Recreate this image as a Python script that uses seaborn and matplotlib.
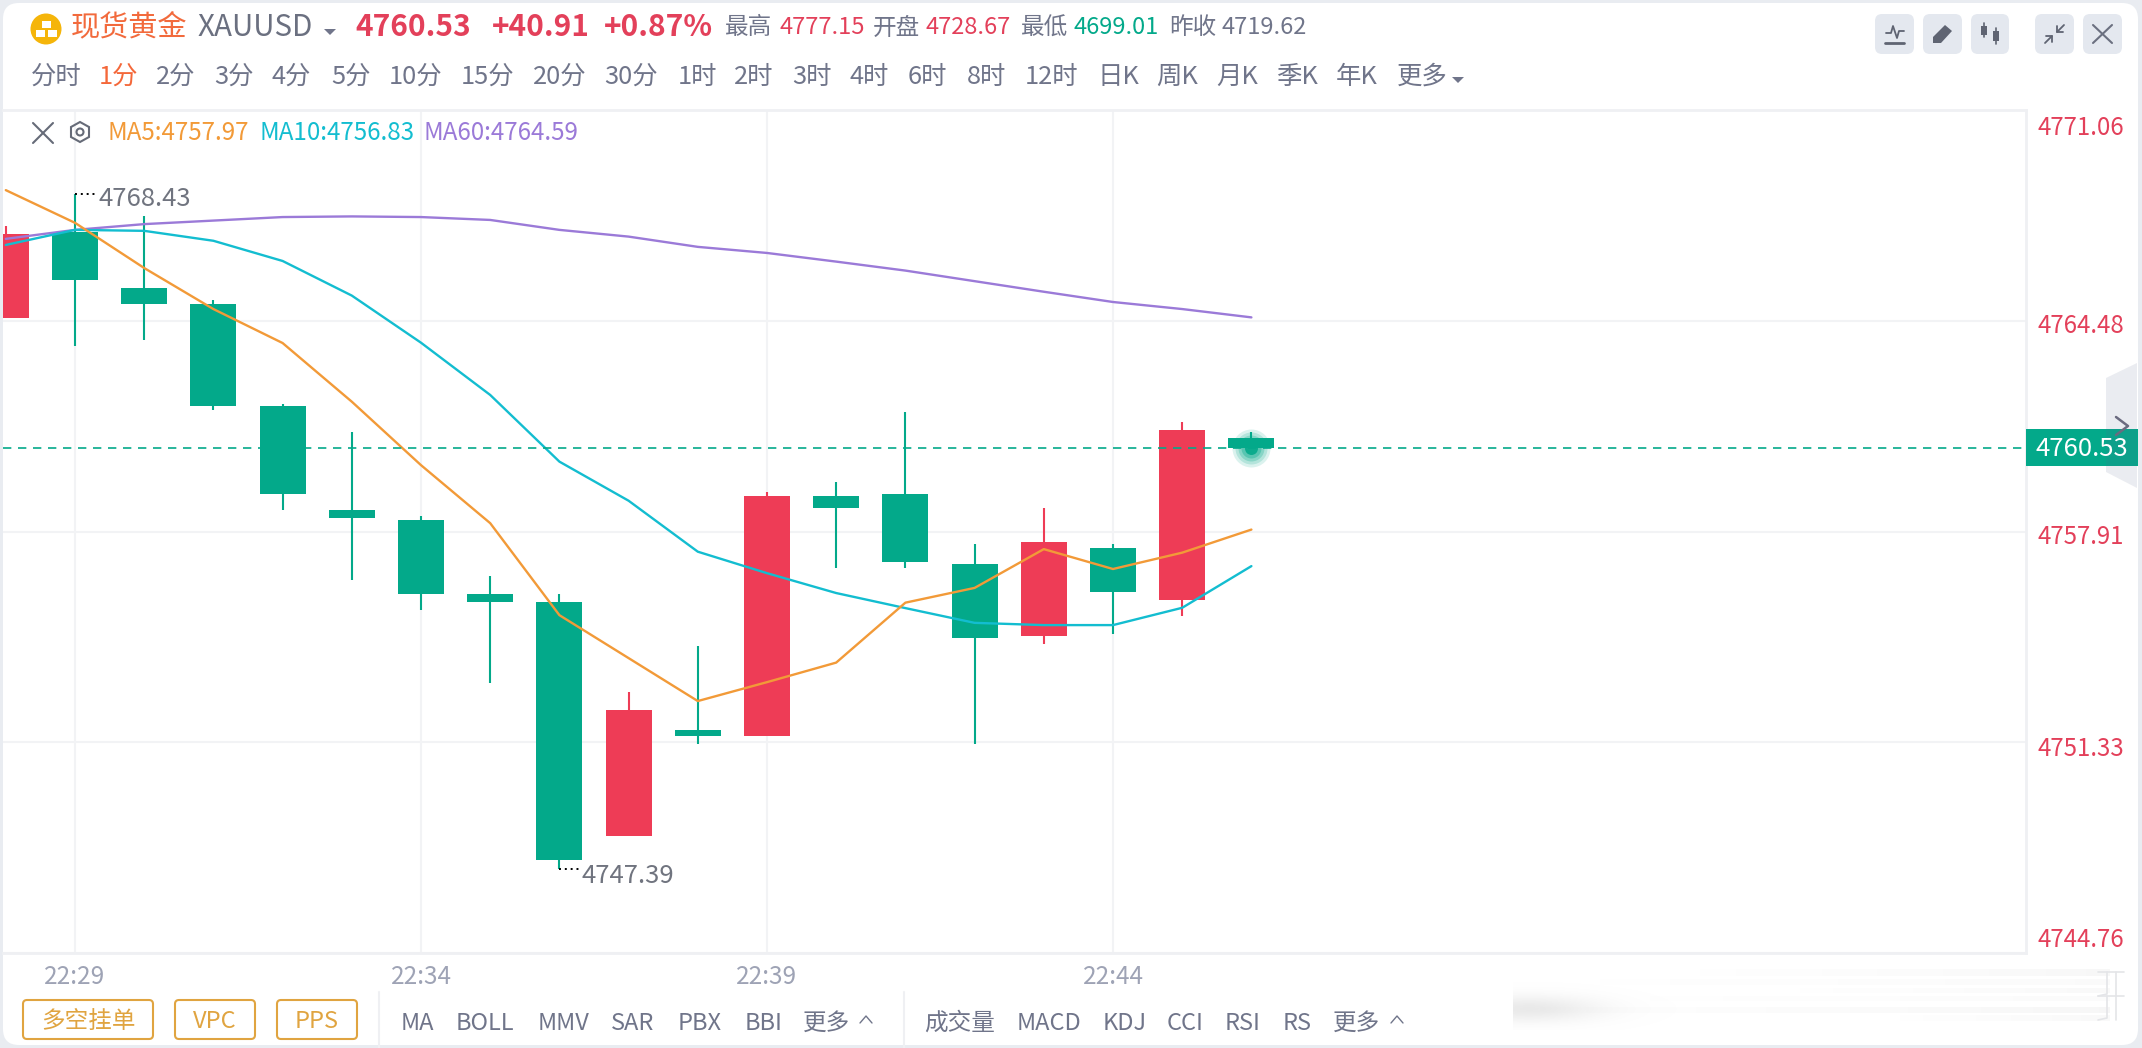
import numpy as np
import pandas as pd
import matplotlib
matplotlib.use("Agg")
import matplotlib.pyplot as plt
import seaborn as sns
from matplotlib.patches import Circle, FancyBboxPatch, Polygon, Rectangle
from matplotlib.transforms import ScaledTranslation

# ── DATA ──────────────────────────────────────────────────────────────────────
bars_x = list(range(-1, 18))
opens = [4764.58, 4767.25, 4765.51, 4765.01, 4761.82, 4758.58, 4758.27, 4755.96, 4755.71, 4748.42,
         4751.72, 4751.53, 4759.02, 4759.08, 4756.89, 4754.65, 4757.39, 4755.77, 4760.83]
closes = [4767.19, 4765.77, 4765.02, 4761.83, 4759.09, 4758.34, 4755.97, 4755.72, 4747.67, 4752.34,
          4751.53, 4759.02, 4758.65, 4756.96, 4754.59, 4757.58, 4756.02, 4761.08, 4760.53]
highs = [4767.44, 4768.43, 4767.75, 4765.13, 4761.89, 4761.01, 4758.39, 4756.52, 4755.96, 4752.90,
         4754.34, 4759.14, 4759.45, 4761.64, 4757.52, 4758.64, 4757.52, 4761.33, 4761.01]
lows = [4764.58, 4763.71, 4763.88, 4761.71, 4758.59, 4756.40, 4755.47, 4753.18, 4747.39, 4748.42,
        4751.28, 4751.53, 4756.77, 4756.77, 4751.28, 4754.40, 4754.71, 4755.27, 4760.53]
ma5 = [4768.56, 4767.54, 4766.13, 4764.85, 4763.79, 4761.96, 4759.98, 4758.17, 4755.30, 4753.96,
       4752.62, 4753.21, 4753.82, 4755.69, 4756.15, 4757.36, 4756.74, 4757.25, 4757.97]
ma10 = [4766.85, 4767.32, 4767.29, 4766.98, 4766.35, 4765.27, 4763.80, 4762.17, 4760.09, 4758.87,
        4757.28, 4756.61, 4755.99, 4755.52, 4755.06, 4754.99, 4754.99, 4755.53, 4756.83]
ma60 = [4767.04, 4767.32, 4767.50, 4767.61, 4767.72, 4767.74, 4767.72, 4767.63, 4767.32, 4767.11,
        4766.79, 4766.60, 4766.33, 4766.05, 4765.72, 4765.39, 4765.07, 4764.85, 4764.59]

price_ticks = [4771.06, 4764.48, 4757.91, 4751.33, 4744.76]
time_pos = [0, 5, 10, 15]
time_labels = ["22:29", "22:34", "22:39", "22:44"]
last_price = 4760.53

period_labels = ["分时", "1分", "2分", "3分", "4分", "5分", "10分", "15分", "20分", "30分", "1时", "2时",
                 "3时", "4时", "6时", "8时", "12时", "日K", "周K", "月K", "季K", "年K", "更多"]
period_x = [31, 99, 156, 214, 272, 331, 389, 461, 533, 604, 678, 734,
            792, 850, 908, 967, 1025, 1098, 1156, 1216, 1276, 1336, 1397]
main_ind = ["MA", "BOLL", "MMV", "SAR", "PBX", "BBI", "更多"]
main_ind_x = [401, 456, 538, 611, 678, 745, 803]
sub_ind = ["成交量", "MACD", "KDJ", "CCI", "RSI", "RS", "更多"]
sub_ind_x = [924, 1017, 1103, 1167, 1225, 1283, 1333]

RED = "#ee3c56"
GREEN = "#03a98a"
ORANGE = "#f29a38"
CYAN = "#13bdd0"
PURPLE = "#9b7ad8"
GRID = "#f2f3f5"
TEXT = "#70758a"
PRICE_RED = "#e3405a"
GOLD = "#e0a440"
W, H = 2142, 1048

sns.set_theme(style="white")
plt.rcParams["font.family"] = ["Noto Sans CJK SC", "DejaVu Sans"]

fig = plt.figure(figsize=(W / 100, H / 100), dpi=100, facecolor="#e9ecf1")

# ── CARD BACKGROUND ───────────────────────────────────────────────────────────
bg = fig.add_axes([0, 0, 1, 1], zorder=0)
bg.set_xlim(0, W)
bg.set_ylim(H, 0)
bg.axis("off")
bg.add_patch(FancyBboxPatch((3, 3), W - 7, H - 6, boxstyle="round,pad=0,rounding_size=16",
                            fc="white", ec="none"))

# ── CHART ─────────────────────────────────────────────────────────────────────
ax = fig.add_axes([3 / W, (H - 953) / H, (2026 - 3) / W, (953 - 110) / H], zorder=1)
ax.patch.set_alpha(0)
colors = [RED if c >= o else GREEN for o, c in zip(opens, closes)]
body_bottom = np.minimum(opens, closes)
body_height = np.abs(np.array(closes) - np.array(opens))
ax.vlines(bars_x, lows, highs, colors=colors, lw=1.5, zorder=2)
ax.bar(bars_x, body_height, bottom=body_bottom, width=0.665, color=colors, linewidth=0, zorder=2)

ma_df = pd.DataFrame({"x": bars_x, "MA5": ma5, "MA10": ma10, "MA60": ma60})
for name, col in [("MA60", PURPLE), ("MA10", CYAN), ("MA5", ORANGE)]:
    sns.lineplot(data=ma_df, x="x", y=name, ax=ax, color=col, lw=1.7, estimator=None,
                 sort=False, legend=False, zorder=3)

ax.axhline(last_price, color=GREEN, lw=1.2, ls=(0, (5, 4)), zorder=4)
for d, a in [(38, 0.14), (32, 0.18), (26, 0.25), (20, 0.35), (13, 0.9)]:
    ax.scatter([17], [last_price], s=(d * 0.72) ** 2, color=GREEN, alpha=a, linewidths=0, zorder=5)

ax.set_xlim(-72 / 69.2, (2026 - 75) / 69.2)
ax.set_ylim(price_ticks[-1], price_ticks[0])
ax.set_xlabel("")
ax.set_ylabel("")
ax.yaxis.tick_right()
ax.set_xticks(time_pos, time_labels)
ax.set_yticks(price_ticks)
ax.set_yticklabels([f"{p:.2f}" for p in price_ticks])
ax.tick_params(axis="x", length=0, pad=8, labelsize=17.5, labelcolor="#9ea3b5")
ax.tick_params(axis="y", length=0, pad=8.5, labelsize=17.3, labelcolor=PRICE_RED)
ax.grid(True, color=GRID, lw=1.5, zorder=0)
ax.set_axisbelow(True)
for lab, dy in zip(ax.get_yticklabels(), [-15, -2, -3, -4, 16]):
    lab.set_transform(lab.get_transform() + ScaledTranslation(0, dy / 100, fig.dpi_scale_trans))
for side in ["top", "bottom", "right"]:
    ax.spines[side].set_color("#eff0f3")
    ax.spines[side].set_linewidth(2)
ax.spines["left"].set_visible(False)

# high / low callouts
i_hi = int(np.argmax(highs))
i_lo = int(np.argmin(lows))
ax.hlines(highs[i_hi], bars_x[i_hi], bars_x[i_hi] + 0.29, color="black", lw=1.4, ls=(0, (1, 2)), zorder=5)
ax.hlines(lows[i_lo], bars_x[i_lo], bars_x[i_lo] + 0.29, color="black", lw=1.4, ls=(0, (1, 2)), zorder=5)
ax.annotate(f"{highs[i_hi]:.2f}", (bars_x[i_hi], highs[i_hi]), xytext=(17, -3.5), textcoords="offset points",
            fontsize=18.5, color="#70747f", va="center")
ax.annotate(f"{lows[i_lo]:.2f}", (bars_x[i_lo], lows[i_lo]), xytext=(16, -5.5), textcoords="offset points",
            fontsize=18.5, color="#70747f", va="center")

# ── PAGE CHROME ───────────────────────────────────────────────────────────────
ui = fig.add_axes([0, 0, 1, 1], zorder=2)
ui.set_xlim(0, W)
ui.set_ylim(H, 0)
ui.axis("off")
ui.patch.set_alpha(0)


def label(x, y, s, size=17, color=TEXT, **kw):
    ui.text(x, y, s, fontsize=size, color=color, va="center", **kw)


def stroke(points, color="#5f6472", lw=1.5):
    xs, ys = zip(*points)
    ui.plot(xs, ys, color=color, lw=lw, solid_capstyle="round", solid_joinstyle="round")


# header
ui.add_patch(Circle((46, 29), 15.5, fc="#f5b50a", ec="none"))
for cx, cy in [(46, 24), (40, 33), (52, 33)]:
    ui.add_patch(Rectangle((cx - 4.5, cy - 3.5), 9, 7, fc="white", ec="none"))
label(71, 27, "现货黄金", 21, "#f26a3c")
label(198, 28, "XAUUSD", 21.3, "#6b7080")
ui.add_patch(Polygon([(324, 29), (336, 29), (330, 35)], fc="#70758a", ec="none"))
label(355, 27, "4760.53", 21.5, PRICE_RED, fontweight="bold")
label(492, 27, "+40.91", 21.5, PRICE_RED, fontweight="bold")
label(604, 27, "+0.87%", 21.5, PRICE_RED, fontweight="bold")
label(725, 28, "最高")
label(779, 28, "4777.15", color=PRICE_RED)
label(873, 28, "开盘")
label(925, 28, "4728.67", color=PRICE_RED)
label(1021, 28, "最低")
label(1073, 28, "4699.01", color=GREEN)
label(1169, 28, "昨收")
label(1221, 28, "4719.62")

for s, x in zip(period_labels, period_x):
    label(x, 77, s, 18.3, "#f4683a" if s == "1分" else TEXT)
ui.add_patch(Polygon([(1452, 77), (1464, 77), (1458, 83)], fc="#70758a", ec="none"))

# toolbar buttons, top right
for x0, x1 in [(1875, 1914), (1923, 1962), (1971, 2009), (2035, 2074), (2083, 2122)]:
    ui.add_patch(FancyBboxPatch((x0, 14), x1 - x0, 40, boxstyle="round,pad=0,rounding_size=7",
                                fc="#e4e8ef", ec="none"))
stroke([(1885, 43), (1904, 43)], lw=2)
stroke([(1886, 33), (1891, 33), (1893, 26), (1897, 38), (1899, 31), (1904, 31)], lw=1.3)
ui.add_patch(Polygon([(1933, 43), (1933, 37), (1945, 25), (1952, 31), (1941, 43)], fc="#5f6472", ec="none"))
stroke([(1984, 23), (1984, 37)], lw=1.2)
stroke([(1996, 28), (1996, 44)], lw=1.2)
ui.add_patch(Rectangle((1981, 26), 6, 9, fc="#5f6472", ec="none"))
ui.add_patch(Rectangle((1993, 31), 6, 10, fc="#5f6472", ec="none"))
stroke([(2064, 25), (2057, 32)], lw=1.3)
stroke([(2057, 26), (2057, 32), (2063, 32)], lw=1.3)
stroke([(2045, 43), (2052, 36)], lw=1.3)
stroke([(2046, 36), (2052, 36), (2052, 42)], lw=1.3)
stroke([(2093, 25), (2112, 43)], "#6b7080")
stroke([(2112, 25), (2093, 43)], "#6b7080")

# MA legend row
stroke([(33, 123), (53, 143)], "#666b78")
stroke([(53, 123), (33, 143)], "#666b78")
hex_pts = [(80, 122), (89, 127), (89, 137), (80, 142), (71, 137), (71, 127)]
ui.add_patch(Polygon(hex_pts, fc="none", ec="#666b78", lw=1.5))
ui.add_patch(Circle((80, 132), 3.5, fc="none", ec="#666b78", lw=1.5))
label(108, 133, f"MA5:{ma5[-1]:.2f}", 17.4, ORANGE)
label(260, 133, f"MA10:{ma10[-1]:.2f}", 17.4, CYAN)
label(424, 133, f"MA60:{ma60[-1]:.2f}", 17.4, PURPLE)

# last price tag and side handle
ui.add_patch(Rectangle((2026, 429), 112, 37, fc=GREEN, ec="none"))
ui.text(2082, 449, f"{last_price:.2f}", fontsize=18.5, color="white", ha="center", va="center")
ui.add_patch(Polygon([(2106, 378), (2137, 363), (2137, 488), (2106, 472)], fc="#59668c", alpha=0.12, ec="none"))
stroke([(2116, 417), (2128, 426), (2116, 435)], "#6b6b80", lw=1.8)

# bottom toolbar
for (x0, x1), s in zip([(23, 153), (175, 255), (277, 357)], ["多空挂单", "VPC", "PPS"]):
    ui.add_patch(FancyBboxPatch((x0, 1000), x1 - x0, 39, boxstyle="round,pad=0,rounding_size=4",
                                fc="white", ec=GOLD, lw=1.5))
    ui.text((x0 + x1) / 2, 1022, s, fontsize=17, color=GOLD, ha="center", va="center")
for x in [379, 904]:
    ui.plot([x, x], [992, 1048], color="#eff0f3", lw=1.5)
for names, xs in [(main_ind, main_ind_x), (sub_ind, sub_ind_x)]:
    for s, x in zip(names, xs):
        label(x, 1023, s, 17)
for x in [866, 1397]:
    stroke([(x - 6, 1023), (x, 1016), (x + 6, 1023)], TEXT, lw=1)

# blurred watermark, bottom right
for y0, y1, x0, peak in [(969, 976, 1700, 0.14), (979, 985, 1600, 0.10), (988, 993, 1800, 0.12),
                         (996, 1001, 1650, 0.09), (1007, 1013, 1540, 0.15), (1015, 1021, 1900, 0.12)]:
    grad = np.zeros((1, 200, 4))
    grad[..., :3] = 0.72
    grad[..., 3] = np.linspace(0.03, peak, 200) ** 1.5 * 2
    ui.imshow(grad, extent=(x0, 2110, y1, y0), aspect="auto", interpolation="bilinear", zorder=1)
blob = np.zeros((60, 60, 4))
yy, xx = np.mgrid[0:60, 0:60]
blob[..., :3] = 0.72
blob[..., 3] = 0.30 * np.exp(-((xx - 5) / 24.0) ** 2 - ((yy - 40) / 12.0) ** 2)
ui.imshow(blob, extent=(1513, 1690, 1030, 965), aspect="auto", interpolation="bilinear", zorder=1)
for y_top in [972, 996]:
    stroke([(2098, y_top), (2124, y_top)], "#e4e5e8", lw=1.2)
    stroke([(2116, y_top), (2116, y_top + 24)], "#e4e5e8", lw=1.2)
    stroke([(2107, y_top), (2107, y_top + 22), (2098, y_top + 24)], "#e4e5e8", lw=1.2)
ui.set_xlim(0, W)
ui.set_ylim(H, 0)

fig.savefig("out.png", dpi=100, facecolor=fig.get_facecolor())
